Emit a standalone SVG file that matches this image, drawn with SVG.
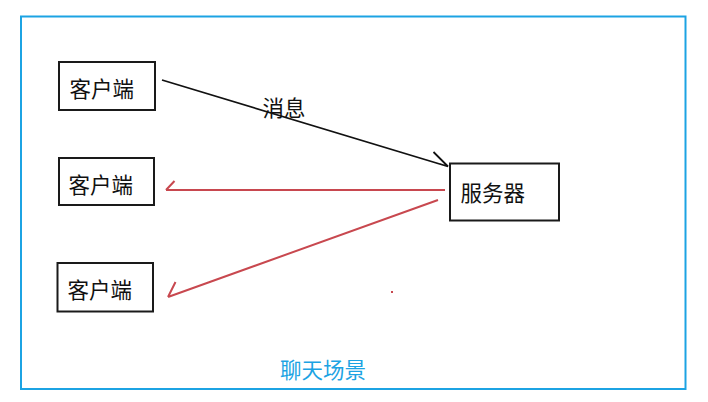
<svg xmlns="http://www.w3.org/2000/svg" width="708" height="402" viewBox="0 0 708 402">
<style>
.box{fill:#fff;stroke:#1a1a1a;stroke-width:2}
.t{font-family:"Noto Sans CJK SC","Microsoft YaHei",sans-serif;font-size:21.5px;fill:#111}
.red{stroke:#c8484f;stroke-width:2;fill:none}
.blk{stroke:#111;stroke-width:1.8;fill:none}
</style>
<rect width="708" height="402" fill="#fff"/>
<g id="frame">
<rect x="21" y="16.5" width="664.5" height="372.5" fill="none" stroke="#1ca3e3" stroke-width="2"/>
<text x="280" y="378" class="t" style="fill:#1ca3e3">聊天场景</text>
</g>
<g id="client1"><rect class="box" x="59" y="62" width="96" height="48"/><text class="t" x="69.5" y="97">客户端</text></g>
<g id="client2"><rect class="box" x="59" y="158" width="95" height="47"/><text class="t" x="68.5" y="193">客户端</text></g>
<g id="client3"><rect class="box" x="57.5" y="263" width="95.5" height="48.5"/><text class="t" x="67.5" y="297.5">客户端</text></g>
<g id="server"><rect class="box" x="450" y="163.5" width="109" height="57"/><text class="t" x="460.5" y="200.5">服务器</text></g>
<g id="connectors">
<path class="blk" d="M162,80 L448,166.5 M433.5,152 L448,166.5 L440,164"/>
<text class="t" x="262.5" y="116">消息</text>
<path class="red" d="M445,190 L166,190 M174.5,181 L166,190"/>
<path class="red" d="M438,200 L168,297 M175.5,282 L168,297"/>
<rect x="391" y="291" width="2" height="2" fill="#c8484f"/>
</g>
</svg>
